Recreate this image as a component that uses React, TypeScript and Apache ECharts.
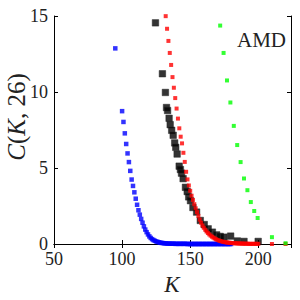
import React, { useEffect, useRef } from "react";
import * as echarts from "echarts";

const xTicks = [50, 100, 150, 200];
const yTicks = [0, 5, 10, 15];

const blueK = [95, 100, 101, 102, 103, 104, 105, 106, 107, 108, 109, 110, 111, 112, 113, 114, 115, 116, 117, 118, 119, 120, 121, 122, 123, 124, 125, 126, 127, 128, 129, 130, 131, 132, 133, 134, 135, 136, 137, 138, 139, 140, 141, 142, 143, 144, 145, 146, 147, 148, 149, 150, 151, 152, 153, 154, 155, 156, 157, 158, 159, 160, 161, 162, 163, 164, 165, 166, 167, 168, 169, 170, 171, 172, 173, 174, 175, 176, 177, 178, 179, 180];
const blueC = [12.87, 8.74, 8.03, 7.28, 6.58, 5.96, 5.39, 4.81, 4.24, 3.82, 3.4, 2.98, 2.58, 2.22, 1.93, 1.65, 1.4, 1.16, 0.95, 0.78, 0.63, 0.5, 0.4, 0.32, 0.26, 0.21, 0.17, 0.14, 0.11, 0.09, 0.07, 0.06, 0.05, 0.04, 0.03, 0.03, 0.02, 0.02, 0.02, 0.02, 0.01, 0.01, 0.01, 0.01, 0.01, 0.01, 0.01, 0.01, 0.01, 0.0, 0.0, 0.0, 0.0, 0.0, 0.0, 0.0, 0.0, 0.0, 0.0, 0.0, 0.0, 0.0, 0.0, 0.0, 0.0, 0.0, 0.0, 0.0, 0.0, 0.0, 0.0, 0.0, 0.0, 0.0, 0.0, 0.0, 0.0, 0.0, 0.0, 0.0, 0.0, 0.0];

const blackK = [124.5, 129.6, 131.8, 132.6, 133.4, 134.5, 135.3, 136.4, 137.5, 138.6, 139.4, 140.4, 141.9, 142.8, 143.6, 144.8, 146.5, 147.8, 148.9, 150.2, 152.0, 154.7, 157.4, 160.3, 163.2, 166.3, 169.4, 172.0, 174.8, 179.7, 184.6, 189.5, 199.9];
const blackC = [14.55, 11.2, 9.97, 8.98, 8.78, 8.27, 7.85, 7.48, 7.15, 6.65, 6.36, 5.92, 5.12, 4.9, 4.66, 4.3, 3.73, 3.45, 3.1, 2.85, 2.4, 2.1, 1.55, 1.28, 1.0, 0.78, 0.6, 0.5, 0.45, 0.52, 0.2, 0.17, 0.17];

const redK = [132, 133, 134, 135, 136, 137, 138, 139, 140, 141, 142, 143, 144, 145, 146, 147, 148, 149, 150, 151, 152, 153, 154, 155, 156, 157, 158, 159, 160, 161, 162, 163, 164, 165, 166, 167, 168, 169, 170, 171, 172, 173, 174, 175, 176, 177, 178, 179, 180, 181, 182, 183, 184, 185, 186, 187, 188, 189, 190, 191, 192, 193, 194, 195, 196, 197, 198, 199, 200, 210, 220];
const redC = [14.99, 14.16, 13.36, 12.57, 11.78, 10.98, 10.28, 9.6, 8.91, 8.25, 7.61, 7.06, 6.62, 6.0, 5.4, 4.75, 4.25, 3.85, 3.5, 3.18, 2.9, 2.62, 2.35, 2.1, 1.85, 1.6, 1.4, 1.22, 1.07, 0.94, 0.82, 0.72, 0.63, 0.55, 0.48, 0.42, 0.36, 0.31, 0.27, 0.23, 0.2, 0.17, 0.15, 0.13, 0.11, 0.1, 0.09, 0.08, 0.07, 0.06, 0.05, 0.05, 0.04, 0.04, 0.03, 0.03, 0.03, 0.02, 0.02, 0.02, 0.02, 0.01, 0.01, 0.01, 0.01, 0.01, 0.01, 0.01, 0.01, 0.0, 0.0];

const greenK = [172, 174.5, 177, 179.5, 182, 184.5, 187, 189.5, 192, 194.5, 197, 199.5, 210, 220];
const greenC = [14.37, 12.57, 10.76, 9.31, 7.77, 6.51, 5.39, 4.31, 3.54, 2.76, 2.17, 1.71, 0.45, 0.05];

const pairs = (k: number[], c: number[]) => k.map((v, i) => [v, c[i]]);

const FONT = "Liberation Serif";

export default function App() {
  const ref = useRef<HTMLDivElement>(null);
  useEffect(() => {
    const chart = echarts.init(ref.current!, null, { renderer: "svg" });
    const axisCommon = {
      axisLine: { show: true, lineStyle: { color: "#000", width: 1 } },
      axisTick: { show: true, inside: true, length: 4, lineStyle: { color: "#000" } },
      splitLine: { show: false },
    };
    const xCommon = { type: "value", min: 50, max: 224, interval: 50 };
    const yCommon = { type: "value", min: 0, max: 15, interval: 5 };
    chart.setOption({
      animation: false,
      grid: { left: 54, right: 9, top: 16, bottom: 56 },
      xAxis: [
        {
          ...xCommon,
          ...axisCommon,
          position: "bottom",
          axisLabel: {
            color: "#222",
            fontFamily: FONT,
            fontSize: 18,
            margin: 6,
            formatter: (v: number) => (xTicks.includes(v) ? String(v) : ""),
          },
        },
        {
          ...xCommon,
          ...axisCommon,
          position: "top",
          axisLabel: { show: false },
        },
      ],
      yAxis: [
        {
          ...yCommon,
          ...axisCommon,
          position: "left",
          axisLabel: {
            color: "#222",
            fontFamily: FONT,
            fontSize: 18,
            margin: 6,
            formatter: (v: number) => (yTicks.includes(v) ? String(v) : ""),
          },
        },
        {
          ...yCommon,
          ...axisCommon,
          position: "right",
          axisLabel: { show: false },
        },
      ],
      graphic: [
        {
          type: "text",
          x: 172,
          y: 284,
          style: {
            text: "K",
            font: `italic 23px '${FONT}'`,
            fill: "#222",
            textAlign: "center",
            textVerticalAlign: "middle",
          },
        },
        {
          type: "text",
          x: 16,
          y: 117,
          rotation: Math.PI / 2,
          style: {
            text: "{i|C}{n|(}{i|K}{n|, 26)}",
            textAlign: "center",
            textVerticalAlign: "middle",
            fill: "#222",
            rich: {
              i: { fontFamily: FONT, fontStyle: "italic", fontSize: 25, fill: "#222" },
              n: { fontFamily: FONT, fontSize: 25, fill: "#222" },
            },
          },
        },
        {
          type: "text",
          x: 286,
          y: 40,
          style: {
            text: "AMD",
            font: `21px '${FONT}'`,
            fill: "#222",
            textAlign: "right",
            textVerticalAlign: "middle",
          },
        },
      ],
      series: [
        {
          type: "scatter",
          data: pairs(blueK, blueC),
          symbol: "rect",
          symbolSize: 4.5,
          itemStyle: { color: "#0000ff" },
          clip: false,
        },
        {
          type: "scatter",
          data: pairs(blackK, blackC),
          symbol: "rect",
          symbolSize: 6.5,
          itemStyle: { color: "#000", borderColor: "#222", borderWidth: 0.6 },
          clip: false,
        },
        {
          type: "scatter",
          data: pairs(redK, redC),
          symbol: "rect",
          symbolSize: 4,
          itemStyle: { color: "#ff0000" },
          clip: false,
        },
        {
          type: "scatter",
          data: pairs(greenK, greenC),
          symbol: "rect",
          symbolSize: 4,
          itemStyle: { color: "#00ff00" },
          clip: false,
        },
      ],
    });
    return () => chart.dispose();
  }, []);
  return <div ref={ref} style={{ width: 300, height: 300, position: "absolute", left: 0, top: 0 }} />;
}
